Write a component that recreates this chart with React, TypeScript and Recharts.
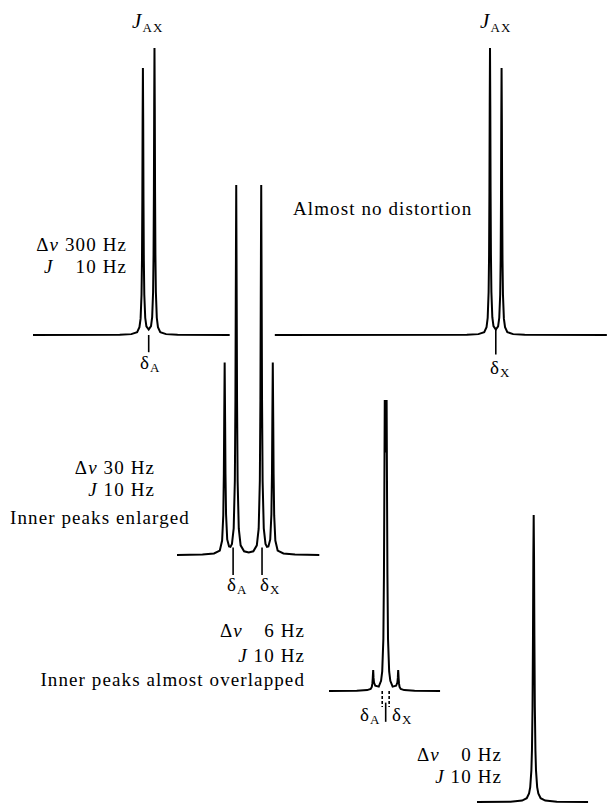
import React from 'react'
import { LineChart, Line, XAxis, YAxis, ReferenceLine } from 'recharts'

// AX -> A2 spectra, x in Hz from the middle of each spectrum, y = relative intensity

// Δν 300 Hz, J 10 Hz  (null = gap in the baseline where the 30 Hz trace crosses)
const P1_HZ = [
  -250, -175, -165, -160, -158, -157, -156.2, -155.8, -155.5, -155.25, -155, -154.75, -154.5, -154.2,
  -153.8, -153, -152, -150, -148, -147, -146.2, -145.8, -145.5, -145.25, -145, -144.75, -144.5, -144.2,
  -143.8, -143, -142, -140, -135, -125, -80, -60, -41,
  125, 135, 140, 142, 143, 143.8, 144.2, 144.5, 144.75, 145, 145.25, 145.5, 145.8, 146.2, 147, 148,
  150, 152, 153, 153.8, 154.2, 154.5, 154.75, 155, 155.25, 155.5, 155.8, 156.2, 157, 158, 160, 165,
  175, 246,
]
const P1_INT = [
  0, 0.1, 0.3, 1.0, 2.7, 5.7, 14, 26, 47, 75, 93, 75, 47, 26,
  14, 6, 3, 1.9, 3.1, 6.2, 15, 28, 50, 80, 100, 80, 50, 28,
  15, 6, 2.7, 1.0, 0.3, 0.1, 0, null, 0,
  0.1, 0.3, 1.0, 2.7, 6, 15, 28, 50, 80, 100, 80, 50, 28, 15, 6.2, 3.1,
  1.9, 3, 6, 14, 26, 47, 75, 93, 75, 47, 26, 14, 5.7, 2.7, 1.0, 0.3,
  0.1, 0,
]
const P1_DELTA = [-150, 150]

// Δν 30 Hz, J 10 Hz
const P2_HZ = [
  -62, -40, -30, -25, -23, -22, -21.5, -21.2, -20.8, -20.4, -20.1, -19.6, -18.6, -17, -15.8, -14.5,
  -13, -12, -11.5, -11.2, -10.8, -10.4, -10.1, -9.6, -8.6, -7, -4, 0,
  4, 7, 8.6, 9.6, 10.1, 10.4, 10.8, 11.2, 11.5, 12, 13, 14.5, 15.8, 17, 18.6, 19.6, 20.1, 20.4,
  20.8, 21.2, 21.5, 22, 23, 25, 30, 40, 61,
]
const P2_INT = [
  0, 0.1, 0.4, 1.2, 3.9, 10.7, 22, 36, 52, 36, 22, 11, 4.2, 2.3, 2.2, 3,
  7.2, 20, 42, 69, 100, 69, 42, 20, 7.1, 2.6, 1.0, 0.7,
  1.0, 2.6, 7.1, 20, 42, 69, 100, 69, 42, 20, 7.2, 3, 2.2, 2.3, 4.2, 11, 22, 36,
  52, 36, 22, 10.7, 3.9, 1.2, 0.4, 0.1, 0,
]
const P2_DELTA = [-13.5, 11.5]

// Δν 6 Hz, J 10 Hz
const P3_HZ = [
  -49, -25, -16, -13, -12, -11.5, -11.2, -10.8, -10.5, -10.1, -9, -6, -4, -3, -2, -1.5, -1.2, -0.8,
  0, 0.8, 1.2, 1.5, 2, 3, 4, 6, 9, 10.1, 10.5, 10.8, 11.2, 11.5, 12, 13, 16, 25, 47,
]
const P3_INT = [
  0, 0.1, 0.3, 0.7, 1.4, 2.6, 4.3, 7.2, 4.5, 2.9, 1.8, 1.5, 3.5, 6.7, 18, 40, 65, 100,
  82, 100, 65, 40, 18, 6.7, 3.5, 1.5, 1.8, 2.9, 4.5, 7.2, 4.3, 2.6, 1.4, 0.7, 0.3, 0.1, 0,
]
const P3_DELTA = [-3, 3]

// Δν 0 Hz, J 10 Hz
const P4_HZ = [-49, -20, -10, -6, -4, -3, -2, -1.5, -1, -0.6, -0.3, 0, 0.3, 0.6, 1, 1.5, 2, 3, 4, 6, 10, 20, 47]
const P4_INT = [0, 0.1, 0.5, 1.3, 3, 5.2, 11, 18, 33, 58, 85, 100, 85, 58, 33, 18, 11, 5.2, 3, 1.3, 0.5, 0.1, 0]

const PAD = 3
const FONT = '"Liberation Serif", "Times New Roman", Times, serif'

type Tick = { x: number; y1: number; y2: number; dash?: string }

function Spectrum(props: {
  hz: number[]
  inten: (number | null)[]
  xDomain: [number, number]
  yDomain: [number, number]
  left: number
  top: number
  sx: number
  sy: number
  ticks: Tick[]
}) {
  const { hz, inten, xDomain, yDomain, left, top, sx, sy, ticks } = props
  const rows = hz.map((h, i) => ({ hz: h, y: inten[i] }))
  const width = (xDomain[1] - xDomain[0]) * sx + PAD * 2
  const height = (yDomain[1] - yDomain[0]) * sy + PAD * 2
  return (
    <div style={{ position: 'absolute', left: left - PAD, top: top - PAD }}>
      <LineChart width={width} height={height} data={rows} margin={{ top: PAD, right: PAD, bottom: PAD, left: PAD }}>
        <XAxis type="number" dataKey="hz" domain={xDomain} hide />
        <YAxis type="number" domain={yDomain} hide />
        <Line
          type="linear"
          dataKey="y"
          stroke="#000"
          strokeWidth={2}
          dot={false}
          connectNulls={false}
          isAnimationActive={false}
        />
        {ticks.map((t, i) => (
          <ReferenceLine
            key={i}
            segment={[{ x: t.x, y: t.y1 }, { x: t.x, y: t.y2 }]}
            stroke="#000"
            strokeWidth={1.6}
            strokeDasharray={t.dash}
          />
        ))}
      </LineChart>
    </div>
  )
}

function Delta({ x, y, sub }: { x: number; y: number; sub: string }) {
  return (
    <text x={x} y={y}>
      δ<tspan fontSize={13} dy={3}>{sub}</tspan>
    </text>
  )
}

function Dnu({ x, y, anchor, rest }: { x: number; y: number; anchor?: string; rest?: string }) {
  return (
    <text x={x} y={y} textAnchor={anchor}>
      Δ<tspan fontStyle="italic">ν</tspan>
      {rest}
    </text>
  )
}

function JLine({ x, y, rest }: { x: number; y: number; rest: string }) {
  return (
    <text x={x} y={y} textAnchor="end">
      <tspan fontStyle="italic">J</tspan>
      {rest}
    </text>
  )
}

export default function App() {
  return (
    <div style={{ position: 'absolute', left: 0, top: 0, width: 607, height: 804, background: '#fff' }}>
      <Spectrum
        hz={P1_HZ}
        inten={P1_INT}
        xDomain={[-250, 246]}
        yDomain={[-8, 100]}
        left={33}
        top={48}
        sx={1.157}
        sy={2.87}
        ticks={[
          { x: P1_DELTA[0], y1: 0, y2: -6 },
          { x: P1_DELTA[1], y1: 2.5, y2: -6.8 },
        ]}
      />
      <Spectrum
        hz={P2_HZ}
        inten={P2_INT}
        xDomain={[-62, 61]}
        yDomain={[-6, 100]}
        left={177}
        top={185}
        sx={1.157}
        sy={3.7}
        ticks={[
          { x: P2_DELTA[0], y1: 2, y2: -5.4 },
          { x: P2_DELTA[1], y1: 2, y2: -5.4 },
        ]}
      />
      <Spectrum
        hz={P3_HZ}
        inten={P3_INT}
        xDomain={[-49, 47]}
        yDomain={[-11, 100]}
        left={329}
        top={400}
        sx={1.157}
        sy={2.91}
        ticks={[
          { x: P3_DELTA[0], y1: 0, y2: -5.5, dash: '3 2' },
          { x: P3_DELTA[1], y1: 0, y2: -5.5, dash: '3 2' },
          { x: 0, y1: -4, y2: -10.6 },
        ]}
      />
      <Spectrum
        hz={P4_HZ}
        inten={P4_INT}
        xDomain={[-49, 47]}
        yDomain={[-0.6, 100]}
        left={477}
        top={515}
        sx={1.157}
        sy={2.87}
        ticks={[]}
      />

      <svg
        width={607}
        height={804}
        style={{ position: 'absolute', left: 0, top: 0, pointerEvents: 'none', fontFamily: FONT, letterSpacing: 1.1 }}
        fontSize={19}
        fill="#000"
      >
        {/* coupling labels */}
        <text x={132} y={28} fontSize={21}>
          <tspan fontStyle="italic">J</tspan>
          <tspan fontSize={13} dy={4}>AX</tspan>
        </text>
        <text x={480} y={28} fontSize={21}>
          <tspan fontStyle="italic">J</tspan>
          <tspan fontSize={13} dy={4}>AX</tspan>
        </text>

        {/* 300 Hz */}
        <Dnu x={127} y={251} anchor="end" rest=" 300 Hz" />
        <text x={44} y={273} fontStyle="italic">J</text>
        <text x={127} y={273} textAnchor="end">10 Hz</text>
        <text x={293} y={215}>Almost no distortion</text>
        <Delta x={140} y={369} sub="A" />
        <Delta x={490} y={374} sub="X" />

        {/* 30 Hz */}
        <Dnu x={155} y={474} anchor="end" rest=" 30 Hz" />
        <JLine x={155} y={496} rest=" 10 Hz" />
        <text x={10} y={524}>Inner peaks enlarged</text>
        <Delta x={227} y={591} sub="A" />
        <Delta x={260} y={591} sub="X" />

        {/* 6 Hz */}
        <Dnu x={220} y={637} />
        <text x={305} y={637} textAnchor="end">6 Hz</text>
        <JLine x={305} y={662} rest=" 10 Hz" />
        <text x={305} y={686} textAnchor="end">Inner peaks almost overlapped</text>
        <Delta x={360} y={721} sub="A" />
        <Delta x={392} y={721} sub="X" />

        {/* 0 Hz */}
        <Dnu x={417} y={761} />
        <text x={502} y={761} textAnchor="end">0 Hz</text>
        <JLine x={502} y={783} rest=" 10 Hz" />
      </svg>
    </div>
  )
}
